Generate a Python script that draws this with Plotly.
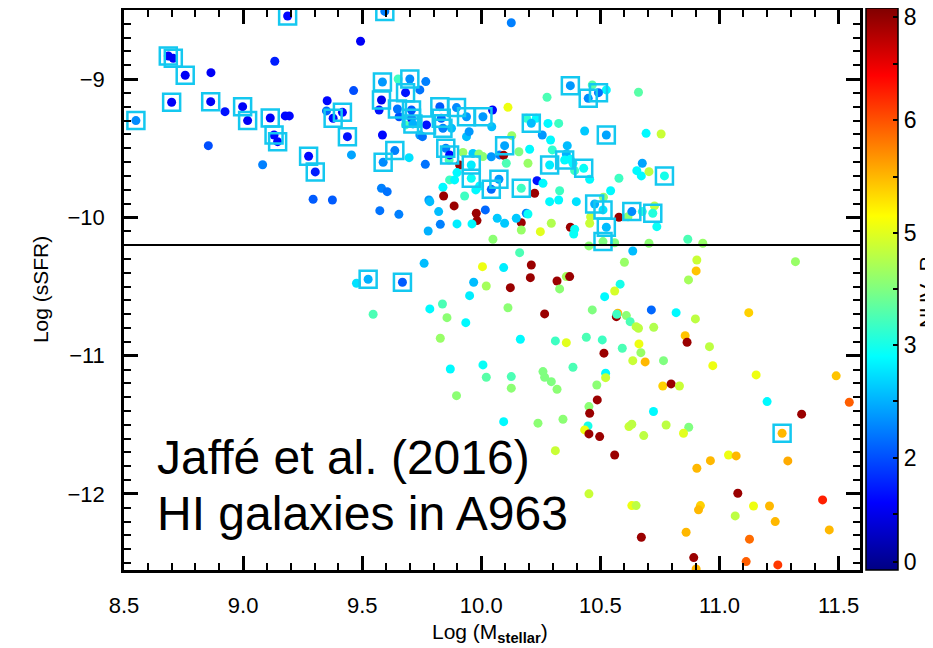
import plotly.graph_objects as go

# ---------------- data ----------------
# upper-left group
mass_ul = [9.493, 9.133, 8.865, 8.924, 9.177, 9.194, 8.854, 9.082, 9.353, 9.350, 9.464, 9.455, 9.294, 9.375]
ssfr_ul = [-8.726, -8.871, -8.953, -9.235, -9.266, -9.266, -9.481, -9.619, -9.156, -9.230, -9.083, -9.548, -9.869, -9.874]
nuvr_ul = [0.9, 1.2, 0.9, 1.1, 1.0, 1.0, 1.6, 2.0, 1.0, 1.8, 1.6, 2.3, 1.7, 1.7]

# upper-middle group
mass_um = [10.126, 9.651, 9.767, 9.742, 9.571, 9.655, 9.682, 9.875, 10.047, 10.112,
           10.044, 9.742, 9.753, 9.585, 9.938, 9.949, 10.128, 10.190, 10.231, 10.276,
           10.280, 10.325, 10.256, 10.291, 10.298, 10.525, 10.466, 10.434, 10.361, 10.158,
           10.203, 10.196, 10.357, 10.374, 10.385, 10.392, 10.455, 9.865, 9.923, 9.965,
           9.990, 10.007, 10.042, 10.077, 10.094, 10.105, 9.909, 9.898, 10.234, 10.224,
           10.259, 10.329, 9.867, 9.888, 9.839, 9.842, 9.930, 9.977, 9.993, 9.581,
           9.605, 9.765, 9.697, 9.780]
ssfr_um = [-8.592, -8.999, -9.018, -9.078, -9.223, -9.272, -9.331, -9.355, -9.223, -9.204,
           -9.344, -9.404, -9.416, -9.404, -9.416, -9.380, -9.409, -9.283, -9.283, -9.131,
           -9.320, -9.320, -9.404, -9.440, -9.512, -9.078, -9.042, -9.375, -9.481, -9.525,
           -9.507, -9.608, -9.541, -9.580, -9.608, -9.662, -9.724, -9.585, -9.530, -9.537,
           -9.541, -9.560, -9.561, -9.548, -9.551, -9.608, -9.621, -9.676, -9.734, -9.825,
           -9.753, -9.807, -9.729, -9.729, -9.782, -9.845, -9.845, -9.801, -9.773, -9.789,
           -9.814, -9.616, -9.568, -9.874]
nuvr_um = [2.0, 3.5, 2.0, 1.9, 1.1, 1.6, 3.6, 2.5, 1.0, 4.9,
           2.5, 2.2, 1.9, 1.0, 2.5, 2.2, 4.2, 3.4, 3.0, 3.6,
           3.0, 3.5, 2.2, 3.0, 3.4, 3.0, 3.7, 2.6, 2.5, 4.0,
           3.0, 4.2, 2.4, 3.0, 3.0, 3.5, 3.0, 3.6, 4.2, 2.6,
           4.1, 4.1, 2.2, 2.0, 7.8, 3.6, 7.8, 3.0, 1.1, 7.8,
           3.0, 3.5, 3.5, 3.0, 3.0, 7.8, 3.5, 3.0, 3.0, 2.0,
           1.9, 1.9, 2.8, 2.2]

# upper-right group
mass_ur = [10.660, 10.692, 10.755, 10.676, 10.653, 10.672, 10.704, 10.578, 10.543, 10.513]
ssfr_ur = [-9.095, -9.392, -9.397, -9.608, -9.662, -9.700, -9.669, -9.717, -9.807, -9.854]
nuvr_ur = [3.7, 3.0, 4.6, 2.3, 3.0, 3.0, 4.5, 3.5, 3.0, 4.1]

# middle group
mass_m = [10.287, 10.325, 10.399, 10.459, 10.455, 10.452, 10.374, 10.392, 10.388, 10.294,
          10.248, 10.168, 10.168, 10.189, 10.196, 10.147, 10.098, 10.067, 10.017, 9.979,
          9.982, 9.961, 9.898, 9.886, 9.821, 9.784, 9.828, 9.777, 9.654, 9.574,
          10.049, 10.161, 9.760, 10.005, 10.094, 10.210, 10.206, 10.318, 10.357, 10.371,
          10.329, 10.122, 10.021, 9.968, 9.951, 9.546, 9.476, 9.837, 9.784, 9.856,
          9.935, 10.112, 10.266, 10.518, 10.466, 10.164, 9.828, 10.311, 10.357, 10.441,
          10.508, 10.515, 9.870, 10.007, 10.021, 10.126, 10.259, 10.266, 10.294, 10.385,
          10.522, 10.522, 10.485, 10.126, 10.318]
ssfr_m = [-9.886, -9.874, -9.886, -9.995, -10.042, -10.206, -10.071, -10.086, -10.120, -10.042,
          -10.103, -10.038, -10.091, -9.970, -9.975, -10.006, -10.042, -10.006, -9.946, -9.970,
          -10.023, -10.047, -10.047, -9.917, -9.958, -9.886, -10.050, -10.098, -9.978, -9.951,
          -10.158, -10.255, -10.332, -10.356, -10.363, -10.344, -10.436, -10.460, -10.428, -10.428,
          -10.517, -10.508, -10.496, -10.469, -10.566, -10.700, -10.476, -10.626, -10.662, -10.725,
          -10.761, -10.653, -10.698, -10.573, -10.669, -10.881, -10.874, -10.893, -10.906, -10.867,
          -10.886, -10.982, -11.096, -11.067, -11.156, -11.151, -11.115, -11.156, -11.188, -11.084,
          -11.127, -11.159, -11.212, -11.235, -11.243]
nuvr_m = [3.0, 3.0, 2.8, 4.6, 4.6, 4.1, 7.8, 3.1, 3.1, 4.4,
          4.8, 7.8, 4.2, 2.0, 3.1, 2.6, 2.6, 2.6, 1.8, 7.8,
          7.8, 3.0, 2.9, 7.8, 2.5, 2.5, 2.0, 2.4, 2.0, 1.9,
          4.1, 3.6, 2.5, 4.9, 2.9, 7.8, 7.8, 7.8, 4.3, 7.8,
          4.1, 7.8, 4.3, 2.5, 2.9, 3.6, 2.8, 3.6, 3.0, 4.1,
          3.0, 4.1, 7.8, 3.0, 4.0, 3.0, 4.2, 3.5, 4.8, 3.6,
          3.5, 7.8, 3.0, 3.1, 3.7, 3.6, 4.0, 4.0, 4.0, 3.6,
          3.0, 4.6, 4.1, 4.1, 4.1]

# lower-middle group
mass_lm = [9.896, 10.487, 10.452, 10.455, 10.094, 10.238, 10.343, 10.448, 10.434, 10.452, 10.497, 10.311, 10.452]
ssfr_lm = [-11.289, -11.320, -11.368, -11.416, -11.477, -11.488, -11.460, -11.508, -11.537, -11.566, -11.585, -11.687, -11.999]
nuvr_lm = [4.1, 7.8, 4.1, 7.8, 3.0, 4.1, 4.1, 3.2, 4.9, 7.8, 7.8, 4.6, 4.6]

# middle-right group
mass_mr = [10.560, 10.578, 10.616, 10.676, 10.727, 10.737, 10.704, 10.867, 10.930, 10.636,
           10.601, 10.905, 10.902, 10.870, 11.319, 10.583, 10.560, 10.714, 10.818, 10.899,
           11.123, 10.567, 10.573, 10.569, 10.609, 10.625, 10.650, 10.660, 10.724, 10.856,
           10.864, 10.958, 10.662, 10.592, 10.670, 10.636, 10.688, 10.765, 10.972, 11.154,
           11.490, 10.762, 10.797, 10.832]
ssfr_mr = [-10.183, -9.999, -9.995, -9.958, -9.917, -10.067, -10.187, -10.158, -10.187, -10.243,
           -10.324, -10.308, -10.387, -10.452, -10.320, -10.483, -10.532, -10.669, -10.689, -10.734,
           -10.689, -10.718, -10.693, -10.700, -10.710, -10.754, -10.790, -10.802, -10.795, -10.855,
           -10.903, -10.935, -10.915, -10.946, -10.978, -11.036, -11.045, -11.036, -11.072, -11.139,
           -11.146, -11.219, -11.204, -11.219]
nuvr_mr = [4.0, 7.8, 4.1, 3.3, 4.5, 3.1, 4.1, 3.6, 4.2, 2.5,
           4.2, 4.6, 5.5, 4.3, 4.2, 3.2, 4.7, 1.8, 3.0, 4.5,
           5.4, 7.8, 5.6, 3.5, 4.1, 3.6, 4.5, 4.5, 4.4, 5.5,
           7.8, 4.5, 4.9, 3.6, 4.2, 4.6, 5.6, 4.0, 4.9, 4.9,
           5.5, 5.4, 7.8, 4.6]

# lower-right group
mass_lr = [10.723, 10.620, 10.632, 10.682, 10.776, 10.871, 10.849, 10.560, 10.905, 10.962,
           11.038, 11.070, 11.200, 11.345, 11.545, 11.287, 11.077, 10.632, 10.650, 10.920,
           10.912, 11.143, 11.210, 11.066, 11.234, 11.433, 11.461, 10.672, 10.860, 11.126,
           10.892, 10.902, 11.112, 11.245]
ssfr_lr = [-11.404, -11.513, -11.496, -11.578, -11.501, -11.518, -11.561, -11.718, -11.814, -11.759,
           -11.718, -11.725, -11.332, -11.423, -11.337, -11.761, -11.995, -12.084, -12.084, -12.084,
           -12.115, -12.087, -12.087, -12.159, -12.200, -12.043, -12.260, -12.313, -12.277, -12.327,
           -12.460, -12.542, -12.489, -12.513]
nuvr_lr = [3.0, 4.6, 4.5, 4.5, 4.5, 4.0, 4.8, 7.8, 5.6, 5.6,
           4.9, 5.6, 3.0, 7.8, 6.3, 5.7, 7.8, 4.9, 4.5, 5.4,
           5.6, 4.9, 5.6, 4.5, 5.6, 6.8, 5.6, 7.8, 5.6, 6.2,
           7.8, 5.6, 6.3, 6.6]

# HI-detected galaxies (marked with squares)
mass_hi = [9.187, 8.686, 8.707, 8.757, 8.700, 8.864, 8.550, 8.998, 9.019, 9.114,
           9.130, 9.145, 9.275, 9.303, 9.378, 9.417, 9.438, 9.595, 9.585, 9.700,
           9.682, 9.581, 9.648, 9.707, 9.707, 9.713, 9.770, 9.826, 9.896, 9.832,
           9.839, 9.938, 10.007, 10.210, 10.374, 10.449, 10.492, 10.525, 10.098, 10.287,
           10.350, 10.430, 9.851, 9.867, 9.958, 9.958, 10.074, 10.042, 10.168, 9.637,
           9.588, 10.769, 10.476, 10.511, 10.525, 10.511, 9.525, 9.669, 10.632, 10.720,
           11.263]
ssfr_hi = [-8.543, -8.833, -8.849, -8.972, -9.167, -9.163, -9.300, -9.199, -9.300, -9.281,
           -9.404, -9.452, -9.558, -9.671, -9.283, -9.240, -9.416, -8.510, -9.021, -8.999,
           -9.098, -9.151, -9.216, -9.223, -9.283, -9.324, -9.331, -9.199, -9.206, -9.283,
           -9.355, -9.272, -9.272, -9.319, -9.047, -9.139, -9.098, -9.404, -9.481, -9.621,
           -9.585, -9.645, -9.500, -9.548, -9.621, -9.717, -9.724, -9.797, -9.789, -9.517,
           -9.601, -9.700, -9.903, -9.946, -10.071, -10.175, -10.447, -10.469, -9.958, -9.970,
           -11.561]
nuvr_hi = [1.0, 0.9, 0.9, 0.9, 0.9, 0.9, 2.1, 0.9, 0.9, 0.9,
           1.0, 1.0, 1.0, 1.2, 1.0, 1.0, 1.1, 2.0, 2.2, 2.1,
           1.1, 0.8, 1.9, 1.7, 1.1, 2.4, 1.1, 1.7, 2.1, 1.8,
           2.0, 2.2, 2.2, 2.5, 2.2, 2.1, 1.9, 2.3, 2.3, 2.9,
           3.0, 3.1, 2.0, 1.0, 2.9, 3.1, 2.2, 1.8, 3.5, 2.0,
           2.1, 3.2, 2.4, 2.8, 2.5, 4.0, 2.4, 1.7, 2.1, 3.3,
           5.6]

ssfr_cut = -10.2
x_ticks = [8.5, 9.0, 9.5, 10.0, 10.5, 11.0, 11.5]
y_ticks = [-12, -11, -10, -9]
cbar_vals = [0.12, 0.8, 1.6, 2.4, 3.2, 4.0, 4.8, 5.6, 6.4, 7.2, 7.87]
cbar_text = ["0", "", "2", "", "3", "", "5", "", "6", "", "8"]

mass = mass_ul + mass_um + mass_ur + mass_m + mass_lm + mass_mr + mass_lr + mass_hi
ssfr = ssfr_ul + ssfr_um + ssfr_ur + ssfr_m + ssfr_lm + ssfr_mr + ssfr_lr + ssfr_hi
nuvr = nuvr_ul + nuvr_um + nuvr_ur + nuvr_m + nuvr_lm + nuvr_mr + nuvr_lr + nuvr_hi

jet = [
    [0.0, "rgb(0,0,131)"],
    [0.12, "rgb(0,0,255)"],
    [0.38, "rgb(0,255,255)"],
    [0.5, "rgb(128,255,128)"],
    [0.63, "rgb(255,255,0)"],
    [0.88, "rgb(255,0,0)"],
    [1.0, "rgb(128,0,0)"],
]

FONT = "Liberation Sans, Arial, sans-serif"

fig = go.Figure()
fig.add_trace(go.Scatter(
    x=mass, y=ssfr, mode="markers",
    marker=dict(size=9, color=nuvr, cmin=0, cmax=8, colorscale=jet,
                colorbar=dict(x=1.008, xanchor="left", y=(570 - 8) / 560, yanchor="top",
                              len=562, lenmode="pixels", thickness=32,
                              outlinewidth=1.5, outlinecolor="black",
                              tickvals=cbar_vals, ticktext=cbar_text,
                              ticks="inside", ticklen=5, tickwidth=1.5, tickcolor="black",
                              ticklabeloverflow="allow",
                              tickfont=dict(family=FONT, size=23, color="black"),
                              xpad=0, ypad=0)),
    showlegend=False, hoverinfo="skip"))
fig.add_trace(go.Scatter(
    x=mass_hi, y=ssfr_hi, mode="markers",
    marker=dict(symbol="square-open", size=17, color="rgb(20,200,240)",
                line=dict(width=2.5, color="rgb(20,200,240)")),
    showlegend=False, hoverinfo="skip", cliponaxis=True))

fig.add_shape(type="line", xref="paper", yref="y", x0=0, x1=1, y0=ssfr_cut, y1=ssfr_cut,
              line=dict(color="black", width=2))

axis_common = dict(showgrid=False, zeroline=False, showline=True, linecolor="black",
                   linewidth=2.5, mirror="allticks", ticks="inside", tickwidth=2.5,
                   tickcolor="black", tickfont=dict(family=FONT, size=22, color="black"))
fig.update_xaxes(range=[8.5, 11.59], tickvals=x_ticks, tickformat=".1f", ticklen=14,
                 minor=dict(ticks="inside", dtick=0.1, tick0=8.5, ticklen=7, tickwidth=2, tickcolor="black"),
                 ticklabelstandoff=14, **axis_common)
fig.update_yaxes(range=[-12.55, -8.5], tickvals=y_ticks, ticklen=14,
                 minor=dict(ticks="inside", dtick=0.1, tick0=-12, ticklen=7, tickwidth=2, tickcolor="black"),
                 ticklabelstandoff=12, **axis_common)

fig.add_annotation(text="Jaffé et al. (2016)", xref="x", yref="y", x=8.63, y=-11.735,
                   xanchor="left", yanchor="middle", showarrow=False,
                   font=dict(family=FONT, size=48, color="black"))
fig.add_annotation(text="HI galaxies in A963", xref="x", yref="y", x=8.63, y=-12.14,
                   xanchor="left", yanchor="middle", showarrow=False,
                   font=dict(family=FONT, size=48, color="black"))
fig.add_annotation(text="Log (M<sub><b>stellar</b></sub>)", xref="paper", yref="paper",
                   x=0.497, y=-0.112, xanchor="center", yanchor="middle", showarrow=False,
                   font=dict(family=FONT, size=21, color="black"))
fig.add_annotation(text="Log (sSFR)", xref="paper", yref="paper", textangle=-90,
                   x=-0.114, y=0.5, xanchor="center", yanchor="middle", showarrow=False,
                   font=dict(family=FONT, size=21, color="black"))
fig.add_annotation(text="NUV−R", xref="paper", yref="paper", textangle=-90,
                   x=(926 - 124) / 736, y=(570 - 292) / 560, xanchor="center", yanchor="middle",
                   showarrow=False, font=dict(family=FONT, size=21, color="black"))

# the page body adds an 8 px offset, so the figure is 8 px smaller than the window
fig.update_layout(width=925, height=640,
                  margin=dict(l=116, r=73, t=2, b=78, autoexpand=False),
                  plot_bgcolor="white", paper_bgcolor="white")

fig.write_html("out.html")
